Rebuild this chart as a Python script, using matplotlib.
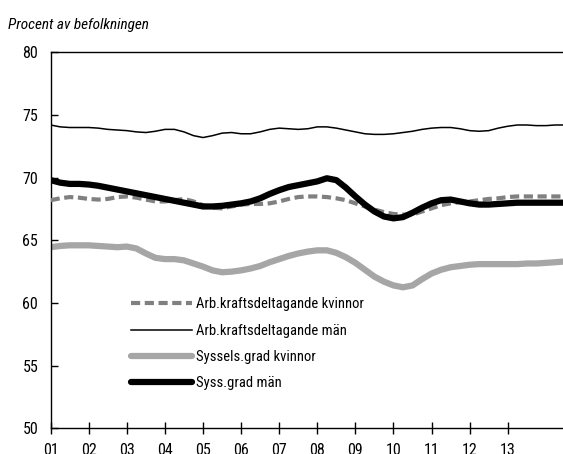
import matplotlib
matplotlib.use("Agg")
import matplotlib.pyplot as plt
from matplotlib import font_manager

# quarterly points, 1 = 2001, last point sits on the right edge of the plot
years = [1 + 0.25 * i for i in range(54)] + [14.45]

lfp_women = [68.2, 68.35, 68.45, 68.4, 68.3, 68.25, 68.3, 68.45, 68.5, 68.4,
             68.25, 68.1, 68.1, 68.2, 68.3, 68.1, 67.8, 67.6, 67.55, 67.7,
             67.85, 67.9, 67.9, 67.95, 68.1, 68.3, 68.45, 68.5, 68.5, 68.45,
             68.35, 68.2, 67.95, 67.7, 67.45, 67.25, 67.1, 67.05, 67.05, 67.3,
             67.55, 67.8, 67.95, 68.05, 68.1, 68.2, 68.3, 68.35, 68.45, 68.5,
             68.5, 68.5, 68.5, 68.5, 68.5]
lfp_men = [74.2, 74.05, 74.0, 74.0, 74.0, 73.95, 73.85, 73.8, 73.75, 73.65,
           73.6, 73.7, 73.85, 73.85, 73.65, 73.35, 73.2, 73.35, 73.55, 73.6,
           73.5, 73.5, 73.65, 73.85, 73.95, 73.9, 73.85, 73.9, 74.05, 74.05,
           73.95, 73.8, 73.65, 73.5, 73.45, 73.45, 73.5, 73.6, 73.7, 73.85,
           73.95, 74.0, 74.0, 73.9, 73.75, 73.7, 73.75, 73.95, 74.1, 74.2,
           74.2, 74.15, 74.15, 74.2, 74.2]
emp_women = [64.45, 64.55, 64.6, 64.6, 64.6, 64.55, 64.5, 64.45, 64.5, 64.35,
             63.95, 63.6, 63.5, 63.5, 63.4, 63.15, 62.9, 62.6, 62.45, 62.5,
             62.6, 62.75, 62.95, 63.25, 63.5, 63.75, 63.95, 64.1, 64.2, 64.2,
             64.0, 63.65, 63.2, 62.65, 62.1, 61.7, 61.4, 61.25, 61.4, 61.9,
             62.35, 62.65, 62.85, 62.95, 63.05, 63.1, 63.1, 63.1, 63.1, 63.1,
             63.15, 63.15, 63.2, 63.25, 63.3]
emp_men = [69.8, 69.6, 69.5, 69.5, 69.45, 69.35, 69.2, 69.05, 68.9, 68.75,
           68.6, 68.45, 68.3, 68.15, 68.0, 67.85, 67.7, 67.7, 67.75, 67.85,
           67.95, 68.1, 68.35, 68.7, 69.0, 69.25, 69.4, 69.55, 69.7, 69.95,
           69.8, 69.2, 68.5, 67.85, 67.3, 66.9, 66.75, 66.85, 67.2, 67.6,
           67.95, 68.2, 68.25, 68.1, 67.95, 67.85, 67.85, 67.9, 67.95, 68.0,
           68.0, 68.0, 68.0, 68.0, 68.0]

xticks = list(range(1, 14))
xlabels = [f"{i:02d}" for i in xticks]
labels = ["Arb.kraftsdeltagande kvinnor", "Arb.kraftsdeltagande män",
          "Syssels.grad kvinnor", "Syss.grad män"]


def pick_font():
    for name in ["Liberation Sans Narrow", "DejaVu Sans Condensed", "Roboto Condensed",
                 "Liberation Sans", "DejaVu Sans"]:
        try:
            font_manager.findfont(name, fallback_to_default=False)
            return name
        except Exception:
            continue
    return "DejaVu Sans"


plt.rcParams["font.family"] = pick_font()

fig = plt.figure(figsize=(5.63, 4.54), dpi=100)
ax = fig.add_axes([0.090, 0.0566, 0.910, 0.8282])

ax.plot(years, lfp_women, color="#808080", lw=3.0, dashes=(2.2, 1.1),
        dash_capstyle="butt", label=labels[0], zorder=3)
ax.plot(years, lfp_men, color="black", lw=1.1, solid_joinstyle="round",
        label=labels[1], zorder=3)
ax.plot(years, emp_women, color="#a6a6a6", lw=4.5, solid_joinstyle="round",
        solid_capstyle="round", label=labels[2], zorder=2)
ax.plot(years, emp_men, color="black", lw=4.5, solid_joinstyle="round",
        solid_capstyle="round", label=labels[3], zorder=4)

ax.set_xlim(1, 14.45)
ax.set_ylim(50, 80)
ax.set_yticks(range(50, 81, 5))
ax.set_xticks(xticks)
ax.set_xticklabels(xlabels)
ax.spines["right"].set_visible(False)
for s in ["top", "left", "bottom"]:
    ax.spines[s].set_linewidth(1.0)
ax.tick_params(axis="y", direction="in", length=5, width=1, labelsize=11.5, pad=9)
ax.tick_params(axis="x", direction="inout", length=9, width=1, labelsize=11.5, pad=6)

leg = ax.legend(loc="upper left", bbox_to_anchor=(0.157, 0.348), frameon=False,
                fontsize=10.5, handlelength=4.2, handletextpad=0.25,
                labelspacing=0.84, borderpad=0, borderaxespad=0)

fig.text(0.014, 0.945, "Procent av befolkningen", fontsize=11, style="italic",
         va="center", ha="left")

fig.savefig("out.png", dpi=100)
